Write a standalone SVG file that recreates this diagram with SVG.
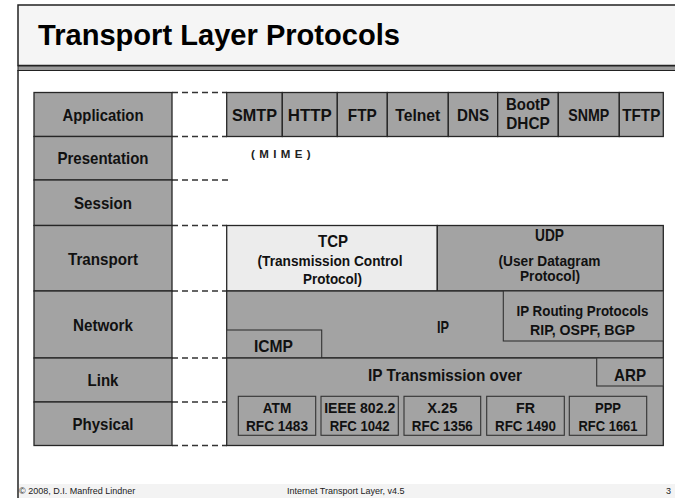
<svg xmlns="http://www.w3.org/2000/svg" width="675" height="498" viewBox="0 0 675 498">
<style>
.box{fill:#a3a3a3;stroke:#262626;stroke-width:1.3}
.light{fill:#ececec;stroke:#262626;stroke-width:1.3}
.inner{fill:#a3a3a3;stroke:#333;stroke-width:1.1}
.t{font-family:"Liberation Sans",Arial,sans-serif;font-weight:bold;font-size:17px;text-anchor:middle;fill:#111}
.s{font-size:15.5px}
.xs{font-size:14.5px}
.dash{stroke:#333;stroke-width:1.3;stroke-dasharray:6 4;fill:none}
.foot{font-family:"Liberation Sans",Arial,sans-serif;font-size:9px;fill:#222}
</style>
<rect x="0" y="0" width="675" height="498" fill="#fff"/>
<g id="frame">
<rect x="18" y="5" width="670" height="60.5" fill="#f5f5f5" stroke="#222" stroke-width="1.5"/>
<rect x="18" y="66" width="670" height="4.5" fill="#9a9a9a" stroke="#222" stroke-width="1"/>
<line x1="18" y1="70" x2="18" y2="498" stroke="#222" stroke-width="1.5"/>
<rect x="19" y="484" width="656" height="14" fill="#f3f3f3"/>
<text x="38" y="45" font-family="Liberation Sans,Arial,sans-serif" font-weight="bold" font-size="30" fill="#000" textLength="362" lengthAdjust="spacingAndGlyphs">Transport Layer Protocols</text>
</g>
<g id="connectors">
<line class="dash" x1="172" y1="92.5" x2="227" y2="92.5"/>
<line class="dash" x1="172" y1="136.5" x2="227" y2="136.5"/>
<line class="dash" x1="172" y1="180" x2="228" y2="180"/>
<line class="dash" x1="172" y1="225.5" x2="227" y2="225.5"/>
<line class="dash" x1="172" y1="291" x2="227" y2="291"/>
<line class="dash" x1="172" y1="358" x2="227" y2="358"/>
<line class="dash" x1="172" y1="402" x2="227" y2="402"/>
<line class="dash" x1="172" y1="445.5" x2="227" y2="445.5"/>
</g>
<g id="layer-application"><rect class="box" x="34" y="92.5" width="138" height="44"/><text class="t" x="103" y="120.5" textLength="81" lengthAdjust="spacingAndGlyphs">Application</text></g>
<g id="layer-presentation"><rect class="box" x="34" y="136.5" width="138" height="43.5"/><text class="t" x="103" y="164" textLength="91" lengthAdjust="spacingAndGlyphs">Presentation</text></g>
<g id="layer-session"><rect class="box" x="34" y="180" width="138" height="45.5"/><text class="t" x="103" y="209" textLength="58" lengthAdjust="spacingAndGlyphs">Session</text></g>
<g id="layer-transport"><rect class="box" x="34" y="225.5" width="138" height="65.5"/><text class="t" x="103" y="264.5" textLength="70" lengthAdjust="spacingAndGlyphs">Transport</text></g>
<g id="layer-network"><rect class="box" x="34" y="291" width="138" height="67"/><text class="t" x="103" y="331" textLength="60" lengthAdjust="spacingAndGlyphs">Network</text></g>
<g id="layer-link"><rect class="box" x="34" y="358" width="138" height="44"/><text class="t" x="103" y="386" textLength="31" lengthAdjust="spacingAndGlyphs">Link</text></g>
<g id="layer-physical"><rect class="box" x="34" y="402" width="138" height="43.5"/><text class="t" x="103" y="430" textLength="61" lengthAdjust="spacingAndGlyphs">Physical</text></g>

<g id="smtp"><rect class="box" x="226.7" y="92.5" width="55.6" height="44"/><text class="t" x="254.5" y="120.5" textLength="45" lengthAdjust="spacingAndGlyphs">SMTP</text></g>
<g id="http"><rect class="box" x="282.3" y="92.5" width="55" height="44"/><text class="t" x="309.8" y="120.5" textLength="44" lengthAdjust="spacingAndGlyphs">HTTP</text></g>
<g id="ftp"><rect class="box" x="337.3" y="92.5" width="50" height="44"/><text class="t" x="362.3" y="120.5" textLength="29" lengthAdjust="spacingAndGlyphs">FTP</text></g>
<g id="telnet"><rect class="box" x="387.3" y="92.5" width="61" height="44"/><text class="t" x="417.8" y="120.5" textLength="45" lengthAdjust="spacingAndGlyphs">Telnet</text></g>
<g id="dns"><rect class="box" x="448.3" y="92.5" width="49.4" height="44"/><text class="t" x="473" y="120.5" textLength="32" lengthAdjust="spacingAndGlyphs">DNS</text></g>
<g id="bootp"><rect class="box" x="497.7" y="92.5" width="60.6" height="44"/><text class="t" x="528" y="110" textLength="44" lengthAdjust="spacingAndGlyphs">BootP</text><text class="t" x="528" y="129" textLength="43.5" lengthAdjust="spacingAndGlyphs">DHCP</text></g>
<g id="snmp"><rect class="box" x="558.3" y="92.5" width="61" height="44"/><text class="t" x="588.8" y="120.5" textLength="41" lengthAdjust="spacingAndGlyphs">SNMP</text></g>
<g id="tftp"><rect class="box" x="619.3" y="92.5" width="44" height="44"/><text class="t" x="641.3" y="120.5" textLength="38" lengthAdjust="spacingAndGlyphs">TFTP</text></g>

<g id="mime"><text x="251" y="158" font-family="Liberation Sans,Arial,sans-serif" font-weight="bold" font-size="11.5" letter-spacing="4.4" fill="#222">(MIME)</text></g>

<g id="tcp"><rect class="light" x="226.7" y="225.5" width="210.6" height="65.5"/>
<text class="t" x="333" y="246.5" textLength="30" lengthAdjust="spacingAndGlyphs">TCP</text>
<text class="t s" x="330" y="266" textLength="145" lengthAdjust="spacingAndGlyphs">(Transmission Control</text>
<text class="t s" x="332.5" y="284" textLength="59" lengthAdjust="spacingAndGlyphs">Protocol)</text></g>
<g id="udp"><rect class="box" x="437.3" y="225.5" width="226" height="65.5"/>
<text class="t" x="549.5" y="240.5" textLength="29" lengthAdjust="spacingAndGlyphs">UDP</text>
<text class="t xs" x="549.5" y="265.5" textLength="102" lengthAdjust="spacingAndGlyphs">(User Datagram</text>
<text class="t xs" x="550" y="281" textLength="60" lengthAdjust="spacingAndGlyphs">Protocol)</text></g>

<g id="ip"><rect class="box" x="226.7" y="291" width="436.6" height="67"/><text class="t" x="443" y="332.5" textLength="12" lengthAdjust="spacingAndGlyphs">IP</text></g>
<g id="ip-routing"><rect class="inner" x="503.3" y="291" width="160" height="50"/>
<text class="t s" x="582.5" y="315.5" textLength="132" lengthAdjust="spacingAndGlyphs">IP Routing Protocols</text>
<text class="t s" x="582.5" y="335" textLength="105" lengthAdjust="spacingAndGlyphs">RIP, OSPF, BGP</text></g>
<g id="icmp"><rect class="inner" x="226.7" y="330" width="95" height="28"/><text class="t" x="273.5" y="351.5" textLength="39" lengthAdjust="spacingAndGlyphs">ICMP</text></g>

<g id="ip-transmission"><rect class="box" x="226.7" y="358" width="436.6" height="87.5"/><text class="t" x="445" y="380.5" textLength="154" lengthAdjust="spacingAndGlyphs">IP Transmission over</text></g>
<g id="arp"><rect class="inner" x="596.7" y="358" width="66.6" height="28"/><text class="t" x="630" y="380.5" textLength="32" lengthAdjust="spacingAndGlyphs">ARP</text></g>
<g id="atm"><rect class="inner" x="238.3" y="396.3" width="77.4" height="39"/><text class="t s" x="277" y="412.5" textLength="28.5" lengthAdjust="spacingAndGlyphs">ATM</text><text class="t s" x="277" y="431" textLength="62" lengthAdjust="spacingAndGlyphs">RFC 1483</text></g>
<g id="ieee"><rect class="inner" x="321" y="396.3" width="77.3" height="39"/><text class="t s" x="359.7" y="412.5" textLength="71" lengthAdjust="spacingAndGlyphs">IEEE 802.2</text><text class="t s" x="359.7" y="431" textLength="60" lengthAdjust="spacingAndGlyphs">RFC 1042</text></g>
<g id="x25"><rect class="inner" x="404" y="396.3" width="76.7" height="39"/><text class="t s" x="442.3" y="412.5" textLength="30" lengthAdjust="spacingAndGlyphs">X.25</text><text class="t s" x="442.3" y="431" textLength="61" lengthAdjust="spacingAndGlyphs">RFC 1356</text></g>
<g id="fr"><rect class="inner" x="486.7" y="396.3" width="77.6" height="39"/><text class="t s" x="525.5" y="412.5" textLength="19" lengthAdjust="spacingAndGlyphs">FR</text><text class="t s" x="525.5" y="431" textLength="61" lengthAdjust="spacingAndGlyphs">RFC 1490</text></g>
<g id="ppp"><rect class="inner" x="569.3" y="396.3" width="77.4" height="39"/><text class="t s" x="608" y="412.5" textLength="26" lengthAdjust="spacingAndGlyphs">PPP</text><text class="t s" x="608" y="431" textLength="59" lengthAdjust="spacingAndGlyphs">RFC 1661</text></g>

<g id="footer">
<text class="foot" x="19" y="494">© 2008, D.I. Manfred Lindner</text>
<text class="foot" x="287" y="494">Internet Transport Layer, v4.5</text>
<text class="foot" x="666" y="494">3</text>
</g>
</svg>
